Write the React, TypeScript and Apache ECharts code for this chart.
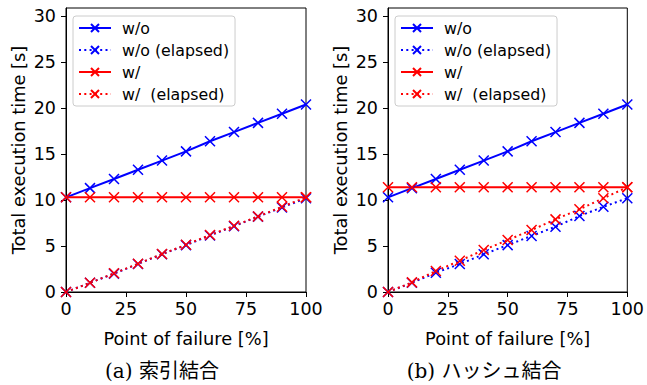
import React, { useEffect, useRef } from "react";
import * as echarts from "echarts";

const failurePoints = [0, 10, 20, 30, 40, 50, 60, 70, 80, 90, 100];
const xTicks = [0, 25, 50, 75, 100];
const yTicks = [0, 5, 10, 15, 20, 25, 30];
const seriesNames = ["w/o", "w/o (elapsed)", "w/", "w/  (elapsed)"];
const captions = ["(a) 索引結合", "(b) ハッシュ結合"];

// (a) index join
const aWithout = [10.3, 11.3, 12.3, 13.3, 14.3, 15.3, 16.4, 17.4, 18.4, 19.4, 20.4];
const aWithoutElapsed = [0, 1.0, 2.0, 3.05, 4.1, 5.1, 6.15, 7.15, 8.2, 9.2, 10.2];
const aWith = [10.3, 10.3, 10.3, 10.3, 10.3, 10.3, 10.3, 10.3, 10.3, 10.3, 10.3];
const aWithElapsed = [0, 1.0, 2.03, 3.08, 4.13, 5.14, 6.2, 7.2, 8.22, 9.27, 10.3];

// (b) hash join
const bWithout = [10.3, 11.3, 12.3, 13.3, 14.3, 15.3, 16.4, 17.4, 18.4, 19.4, 20.4];
const bWithoutElapsed = [0, 1.0, 2.1, 3.04, 4.1, 5.1, 6.1, 7.1, 8.26, 9.27, 10.2];
const bWith = [11.4, 11.4, 11.4, 11.4, 11.4, 11.4, 11.4, 11.4, 11.4, 11.4, 11.4];
const bWithElapsed = [0, 1.05, 2.28, 3.4, 4.57, 5.65, 6.74, 7.9, 9.0, 10.2, 11.4];

const BLUE = "#0000ff";
const RED = "#ff0000";
const X_SYMBOL = "path://M0,0L10,10M10,0L0,10";

function pair(xs: number[], ys: number[]) {
  return xs.map((x, i) => [x, ys[i]]);
}

export default function App() {
  const ref = useRef<HTMLDivElement>(null);
  useEffect(() => {
    if (!ref.current) return;
    const chart = echarts.init(ref.current, null, { renderer: "svg" });
    const font = "DejaVu Sans";
    const grids = [
      { left: 66, top: 8, width: 240, height: 284 },
      { left: 388, top: 8, width: 241, height: 284 },
    ];
    const mkX = (gi: number) => ({
      type: "value",
      gridIndex: gi,
      min: 0,
      max: 100,
      interval: 25,
      name: "Point of failure [%]",
      nameLocation: "middle",
      nameGap: 37,
      nameTextStyle: { fontFamily: font, fontSize: 17.8, color: "#000" },
      axisLine: { show: true, onZero: false, lineStyle: { color: "#000", width: 1 } },
      axisTick: { show: true, inside: false, length: 5, lineStyle: { color: "#000" }, customValues: xTicks },
      axisLabel: { fontFamily: font, fontSize: 17.5, color: "#000", margin: 8, customValues: xTicks },
      splitLine: { show: false },
    });
    const mkY = (gi: number) => ({
      type: "value",
      gridIndex: gi,
      min: 0,
      max: 30.9,
      interval: 5,
      name: "Total execution time [s]",
      nameLocation: "middle",
      nameGap: 39,
      nameTextStyle: { fontFamily: font, fontSize: 17.8, color: "#000" },
      axisLine: { show: true, onZero: false, lineStyle: { color: "#000", width: 1 } },
      axisTick: { show: true, inside: false, length: 5, lineStyle: { color: "#000" }, customValues: yTicks },
      axisLabel: { fontFamily: font, fontSize: 17.5, color: "#000", margin: 10, customValues: yTicks },
      splitLine: { show: false },
    });
    const mkSeries = (gi: number, name: string, ys: number[], color: string, dotted: boolean) => ({
      type: "line",
      name,
      xAxisIndex: gi,
      yAxisIndex: gi,
      data: pair(failurePoints, ys),
      color,
      symbol: X_SYMBOL,
      symbolSize: 10,
      showSymbol: true,
      itemStyle: { color, borderColor: color, borderWidth: 1.5 },
      lineStyle: { color, width: 2, type: dotted ? [2, 3.3] : "solid" },
      emphasis: { disabled: true },
      z: 2,
    });
    const mkLegend = (left: number) => ({
      show: true,
      orient: "vertical",
      left,
      top: 16,
      data: seriesNames,
      backgroundColor: "#fff",
      borderColor: "#cccccc",
      borderWidth: 1,
      borderRadius: 3,
      padding: [3, 6, 3, 5],
      itemGap: 4,
      itemWidth: 32,
      itemHeight: 10,
      selectedMode: false,
      textStyle: { fontFamily: font, fontSize: 15.8, lineHeight: 18, color: "#000", padding: [0, 0, 0, 6] },
    });
    const capStyle = {
      fontFamily: "DejaVu Serif, Noto Sans CJK JP",
      fontSize: 20,
      fill: "#000",
      align: "center",
      verticalAlign: "middle",
    };
    chart.setOption({
      animation: false,
      backgroundColor: "#fff",
      grid: grids.map((g) => ({ ...g, show: true, borderColor: "#000", borderWidth: 1, backgroundColor: "transparent" })),
      xAxis: [mkX(0), mkX(1)],
      yAxis: [mkY(0), mkY(1)],
      legend: [mkLegend(73), mkLegend(395)],
      series: [
        mkSeries(0, seriesNames[0], aWithout, BLUE, false),
        mkSeries(0, seriesNames[1], aWithoutElapsed, BLUE, true),
        mkSeries(0, seriesNames[2], aWith, RED, false),
        mkSeries(0, seriesNames[3], aWithElapsed, RED, true),
        mkSeries(1, seriesNames[0], bWithout, BLUE, false),
        mkSeries(1, seriesNames[1], bWithoutElapsed, BLUE, true),
        mkSeries(1, seriesNames[2], bWith, RED, false),
        mkSeries(1, seriesNames[3], bWithElapsed, RED, true),
      ],
      graphic: [
        { type: "text", x: 162, y: 371, style: { ...capStyle, text: captions[0] } },
        { type: "text", x: 484, y: 371, style: { ...capStyle, text: captions[1] } },
      ],
    });
    return () => chart.dispose();
  }, []);
  return <div ref={ref} style={{ width: 647, height: 385, position: "absolute", left: 0, top: 0 }} />;
}
